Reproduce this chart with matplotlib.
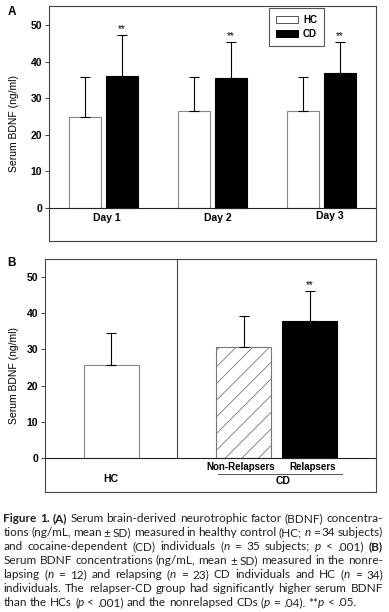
import re
import numpy as np
import matplotlib
matplotlib.use('Agg')
import matplotlib.pyplot as plt
from matplotlib.patches import Patch

plt.rcParams['font.family'] = ['Liberation Sans', 'DejaVu Sans']
plt.rcParams['font.weight'] = 'bold'
plt.rcParams['hatch.linewidth'] = 0.6

# panel A: serum BDNF by day
days = ['Day 1', 'Day 2', 'Day 3']
hc_mean = [25.0, 26.5, 26.5]
hc_sd = [10.9, 9.4, 9.4]
cd_mean = [36.1, 35.6, 37.0]
cd_sd = [11.3, 9.9, 8.3]

# panel B: HC vs CD subgroups
b_groups = ['HC', 'Non-Relapsers', 'Relapsers']
b_mean = [25.8, 30.6, 37.9]
b_sd = [8.8, 8.5, 8.2]

yticks = [0, 10, 20, 30, 40, 50]

caption = [
    "{b:Figure 1. (A)} Serum brain-derived neurotrophic factor (BDNF) concentra-",
    "tions (ng/mL, mean \u00b1 SD) measured in healthy control (HC; {i:n} = 34 subjects)",
    "and cocaine-dependent (CD) individuals ({i:n} = 35 subjects; {i:p} < .001) {b:(B)}",
    "Serum BDNF concentrations (ng/mL, mean \u00b1 SD) measured in the nonre-",
    "lapsing ({i:n} = 12) and relapsing ({i:n} = 23) CD individuals and HC ({i:n} = 34)",
    "individuals. The relapser-CD group had significantly higher serum BDNF",
    "than the HCs ({i:p} < .001) and the nonrelapsed CDs ({i:p} = .04). **{i:p} < .05.",
]

W, H = 389, 612
fig = plt.figure(figsize=(W / 100, H / 100), dpi=100)

frame_col = '#444444'
fs = 7.5


def style_axes(ax, ylo, yhi):
    ax.set_ylim(ylo, yhi)
    for s in ax.spines.values():
        s.set_color(frame_col)
        s.set_linewidth(0.8)
    ax.set_yticks(yticks)
    ax.set_xticks([])
    ax.tick_params(axis='y', direction='out', length=3, width=0.7,
                   color=frame_col, labelsize=fs, pad=2)
    ax.axhline(0, color='#222222', lw=0.8, zorder=3)
    ax.set_ylabel('Serum BDNF (ng/ml)', fontsize=fs)


# ---- panel A
axA = fig.add_axes([49 / W, 1 - 241 / H, 327 / W, 235 / H])
style_axes(axA, -9.0, 55.2)
axA.set_xlim(-0.5, 2.5)
axA.yaxis.set_label_coords(-0.092, 0.5)

x = np.arange(len(days))
off, bw = 0.167, 0.29
axA.bar(x - off, hc_mean, bw, color='white', edgecolor='#888888', lw=0.8, zorder=2)
axA.bar(x + off, cd_mean, bw, color='black', edgecolor='black', lw=0.8, zorder=2)
axA.errorbar(x - off, hc_mean, yerr=[np.zeros(3), hc_sd], fmt='none', ecolor='black',
             elinewidth=0.8, capsize=3.5, capthick=0.8, zorder=4)
axA.errorbar(x + off, cd_mean, yerr=[np.zeros(3), cd_sd], fmt='none', ecolor='black',
             elinewidth=0.8, capsize=3.5, capthick=0.8, zorder=4)
for xi, m, s in zip(x + off, cd_mean, cd_sd):
    axA.annotate('**', (xi, m + s), xytext=(0, 0.5), textcoords='offset points',
                 ha='center', va='bottom', fontsize=7, fontweight='normal')

day_dx = [0.03, 0.05, 0.08]
day_y = [-2.7, -2.7, -2.2]
for xi, d, dx, dy in zip(x, days, day_dx, day_y):
    axA.text(xi + dx, dy, d, ha='center', va='center', fontsize=fs)

leg = axA.legend(handles=[Patch(facecolor='white', edgecolor='#555555', lw=0.7, label='HC'),
                          Patch(facecolor='black', edgecolor='black', lw=0.7, label='CD')],
                 loc='upper left', bbox_to_anchor=(0.673, 0.991), fontsize=7,
                 fancybox=False, edgecolor='#555555', framealpha=1,
                 handlelength=2.3, handleheight=0.65, borderpad=0.7,
                 labelspacing=0.4, handletextpad=0.5, borderaxespad=0)
leg.get_frame().set_linewidth(0.8)

# ---- panel B
axB = fig.add_axes([45 / W, 1 - 491.7 / H, 331 / W, 232.4 / H])
style_axes(axB, -9.2, 54.8)
axB.set_xlim(0, 5)
axB.yaxis.set_label_coords(-0.079, 0.5)

bx = [1, 3, 4]
bwB = 0.83
axB.bar(bx[0], b_mean[0], bwB, color='white', edgecolor='#888888', lw=0.8, zorder=2)
axB.bar(bx[1], b_mean[1], bwB, color='white', edgecolor='#777777', hatch='//', lw=0.8, zorder=2)
axB.bar(bx[2], b_mean[2], bwB, color='black', edgecolor='black', lw=0.8, zorder=2)
axB.errorbar(bx, b_mean, yerr=[np.zeros(3), b_sd], fmt='none', ecolor='black',
             elinewidth=0.8, capsize=3.5, capthick=0.8, zorder=4)
axB.annotate('**', (bx[2], b_mean[2] + b_sd[2]), xytext=(0, 0.5), textcoords='offset points',
             ha='center', va='bottom', fontsize=7, fontweight='normal')

ylo, yhi = axB.get_ylim()
axB.axvline(2, ymin=(0 - ylo) / (yhi - ylo), ymax=1, color=frame_col, lw=0.8)
axB.text(bx[0], -5.7, b_groups[0], ha='center', va='center', fontsize=fs)
axB.text(bx[1] - 0.05, -2.4, b_groups[1], ha='center', va='center', fontsize=7.0)
axB.text(bx[2] + 0.05, -2.4, b_groups[2], ha='center', va='center', fontsize=7.0)
axB.plot([2.61, 4.49], [-4.3, -4.3], color='#555555', lw=0.7)
axB.text(3.6, -6.2, 'CD', ha='center', va='center', fontsize=fs)

fig.text(12 / W, 1 - 12 / H, 'A', ha='center', va='center', fontsize=8.5)
fig.text(12 / W, 1 - 263 / H, 'B', ha='center', va='center', fontsize=8.5)

# ---- caption, justified
cap_col = '#231f20'
styles = {
    'r': dict(family='Lato', weight='normal', style='normal'),
    'b': dict(family='Lato', weight='bold', style='normal'),
    'i': dict(family='Lato', weight='normal', style='italic'),
}


def parse(line):
    words, cur = [], []
    for m in re.finditer(r'\{([bi]):([^}]*)\}|([^{]+)', line):
        style = m.group(1) or 'r'
        text = m.group(2) if m.group(1) else m.group(3)
        for k, part in enumerate(text.split(' ')):
            if k > 0 and cur:
                words.append(cur)
                cur = []
            if part:
                cur.append((part, style))
    if cur:
        words.append(cur)
    return words


renderer = fig.canvas.get_renderer()


def seg_width(text, style, size):
    t = fig.text(0, 0, text, fontsize=size, **styles[style])
    w = t.get_window_extent(renderer).width
    t.remove()
    return w


left, right = 3.5, 383.0
base0, step = 522.5, 14.0
parsed = [parse(line) for line in caption]

# pick a size so the tightest line just fits with ~0.8 normal spaces
ref = 10.0
sp_ref = seg_width('a b', 'r', ref) - seg_width('ab', 'r', ref)
need = 0
for words in parsed[:-1]:
    tot = sum(seg_width(t, s, ref) for w in words for t, s in w)
    need = max(need, tot + 0.8 * sp_ref * (len(words) - 1))
cap_size = ref * (right - left) / need

space_w = seg_width('a b', 'r', cap_size) - seg_width('ab', 'r', cap_size)
for li, words in enumerate(parsed):
    widths = [[seg_width(t, s, cap_size) for t, s in w] for w in words]
    total = sum(sum(ws) for ws in widths)
    if li < len(parsed) - 1:
        gap = (right - left - total) / (len(words) - 1)
    else:
        gap = space_w
    xp = left
    yb = 1 - (base0 + li * step) / H
    for w, ws in zip(words, widths):
        for (t, s), sw in zip(w, ws):
            fig.text(xp / W, yb, t, fontsize=cap_size, color=cap_col,
                     va='baseline', ha='left', **styles[s])
            xp += sw
        xp += gap

fig.savefig('out.png', dpi=100)
